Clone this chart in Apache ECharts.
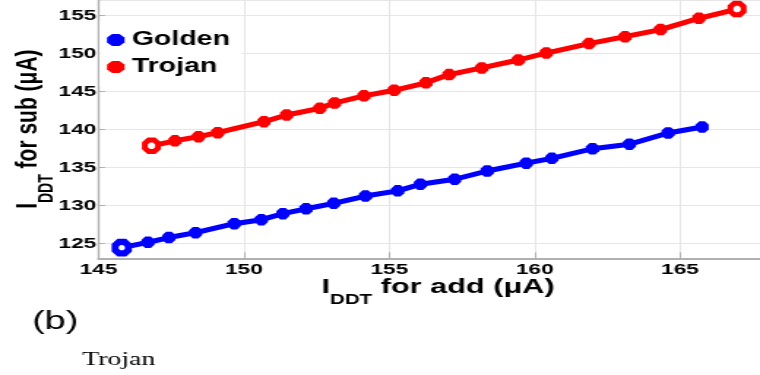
<!DOCTYPE html>
<html>
<head>
<meta charset="utf-8">
<script src="https://cdn.jsdelivr.net/npm/echarts@6/dist/echarts.min.js"></script>
<style>
html,body{margin:0;padding:0;background:#fff;overflow:hidden;}
#wrap{width:760px;height:375px;overflow:hidden;position:relative;}
#c{width:520px;height:375px;transform:scaleX(1.461538);transform-origin:0 0;}
</style>
</head>
<body>
<div id="wrap"><div id="c"></div></div>
<script>
// ---- data ----
const seriesNames = ['Golden', 'Trojan'];
const goldenX = [145.80,146.70,147.42,148.34,149.67,150.60,151.34,152.14,153.09,154.18,155.29,156.07,157.25,158.37,159.71,160.59,161.99,163.26,164.59,165.76];
const goldenY = [124.42,125.13,125.76,126.40,127.58,128.11,128.90,129.55,130.27,131.23,131.91,132.79,133.44,134.53,135.56,136.20,137.46,138.06,139.54,140.33];
const trojanX = [146.82,147.63,148.44,149.10,150.69,151.47,152.61,153.12,154.13,155.17,156.26,157.06,158.18,159.44,160.40,161.87,163.11,164.33,165.65,166.96];
const trojanY = [137.85,138.51,139.05,139.58,141.03,141.91,142.79,143.49,144.44,145.17,146.15,147.24,148.11,149.16,150.08,151.32,152.23,153.17,154.66,155.88];
const xRange = [145, 167.75];
const yRange = [123.02, 157.07];
const xTitle = ['I', 'DDT', ' for add (\u03bcA)'];
const yTitle = ['I', 'DDT', ' for sub (\u03bcA)'];
const panelLabel = '(b)';
const captionText = 'Trojan';

const octagon = 'path://M-0.42,-1L0.42,-1L1,-0.42L1,0.42L0.42,1L-0.42,1L-1,0.42L-1,-0.42Z';

function buildData(xs, ys, color, holeFirst, holeLast, border) {
  return xs.map((x, i) => {
    const item = { value: [x, ys[i]] };
    if ((i === 0 && holeFirst) || (i === xs.length - 1 && holeLast)) {
      item.itemStyle = { color: '#fff', borderColor: color, borderWidth: border };
    }
    return item;
  });
}

const richName = {
  i: { fontFamily: 'Liberation Sans', fontWeight: 'bold', fontSize: 21, lineHeight: 24, verticalAlign: 'top', color: '#000' },
  s: { fontFamily: 'Liberation Sans', fontWeight: 'bold', fontSize: 14, lineHeight: 14, padding: [17, 0, 0, 0], verticalAlign: 'top', color: '#000' },
  t: { fontFamily: 'Liberation Sans', fontWeight: 'bold', fontSize: 21, lineHeight: 24, verticalAlign: 'top', color: '#000' }
};
function richTitle(parts) {
  return '{i|' + parts[0] + '}{s|' + parts[1] + '}{t|' + parts[2] + '}';
}

const axisLabelStyle = { fontFamily: 'Liberation Sans', fontWeight: 'bold', fontSize: 15.5, color: '#000' };

const chart = echarts.init(document.getElementById('c'), null, { renderer: 'canvas' });
chart.setOption({
  animation: false,
  backgroundColor: '#fff',
  grid: { left: 67.4, right: 0, top: 0, bottom: 116.7, containLabel: false, outerBoundsMode: 'none' },
  legend: {
    data: seriesNames,
    left: 68.2, top: 21,
    orient: 'vertical',
    backgroundColor: '#fff',
    padding: [8, 8, 8, 5.0],
    itemGap: 5,
    itemWidth: 12, itemHeight: 12,
    icon: octagon,
    textStyle: { fontFamily: 'Liberation Sans', fontWeight: 'bold', fontSize: 19.5, lineHeight: 22, color: '#000' }
  },
  xAxis: {
    type: 'value', min: xRange[0], max: xRange[1], interval: 5,
    name: richTitle(xTitle), nameLocation: 'middle', nameGap: 18, nameMoveOverlap: false,
    nameTextStyle: { rich: richName, padding: [0, 0, 0, 12] },
    axisLine: { show: true, onZero: false, lineStyle: { color: '#b0b0b0', width: 2 } },
    axisTick: { show: true, inside: true, length: 6, lineStyle: { color: '#b0b0b0' } },
    axisLabel: Object.assign({ margin: 3, showMaxLabel: false, showMinLabel: true }, axisLabelStyle),
    splitLine: { show: true, lineStyle: { color: '#e6e6e6', width: 1 } }
  },
  yAxis: {
    type: 'value', min: yRange[0], max: yRange[1],
    name: richTitle(yTitle), nameLocation: 'middle', nameGap: 35, nameMoveOverlap: false,
    nameTextStyle: { rich: richName },
    axisLine: { show: true, onZero: false, lineStyle: { color: '#b0b0b0', width: 1.4 } },
    axisTick: { show: true, inside: true, length: 4.5, lineStyle: { color: '#b0b0b0' } },
    axisLabel: Object.assign({ margin: 1.5, showMinLabel: false, showMaxLabel: false }, axisLabelStyle),
    splitLine: { show: true, lineStyle: { color: '#e6e6e6', width: 1 } }
  },
  series: [
    {
      name: seriesNames[0], type: 'line',
      data: buildData(goldenX, goldenY, '#0000ff', true, false, 5.5),
      symbol: octagon, symbolSize: [9, 11.5],
      itemStyle: { color: '#0000ff' },
      lineStyle: { color: '#0000ff', width: 5 },
      z: 3
    },
    {
      name: seriesNames[1], type: 'line',
      data: buildData(trojanX, trojanY, '#ff0000', true, true, 4.5),
      symbol: octagon, symbolSize: [9, 11.5],
      itemStyle: { color: '#ff0000' },
      lineStyle: { color: '#ff0000', width: 5 },
      z: 3
    }
  ],
  graphic: [
    { type: 'text', left: 21.9, top: 309, style: { text: panelLabel, fontFamily: 'Liberation Sans', fontSize: 26, fill: '#000' } },
    { type: 'text', left: 56.2, top: 351, style: { text: captionText, fontFamily: 'Liberation Serif', fontSize: 19, fill: '#000' } }
  ]
});
</script>
</body>
</html>
